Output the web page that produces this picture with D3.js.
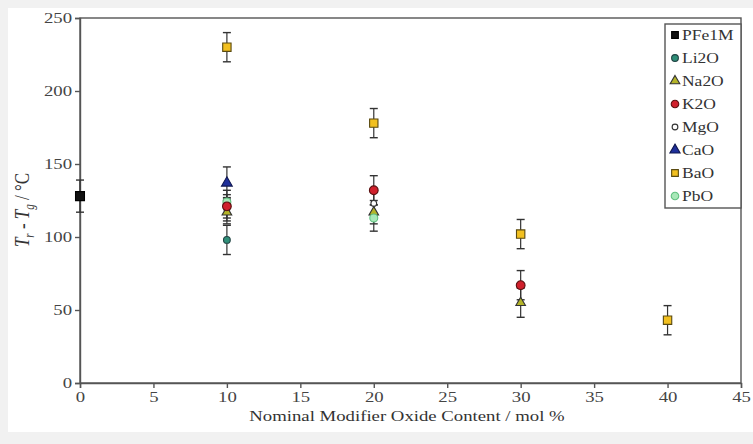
<!DOCTYPE html>
<html>
<head>
<meta charset="utf-8">
<script src="https://cdnjs.cloudflare.com/ajax/libs/d3/7.8.5/d3.min.js"></script>
<style>
  body { margin: 0; background: #f1f1f1; }
  svg { display: block; }
  .axis path, .axis line { stroke: #555; stroke-width: 1.4; }
  .axis text { font-family: "Liberation Serif", "DejaVu Serif", serif; font-size: 15px; fill: #444; }
</style>
</head>
<body>
<div id="chart"></div>
<script>
var margin = {top: 18, right: 12, bottom: 61, left: 80};
var width = 753, height = 444;
var stretch = 1.25; // the picture is wider than it is tall, so text runs wide

// series names and values (x = mol %, y = Tr - Tg, e = error)
var seriesNames = ["PFe1M", "Li2O", "Na2O", "K2O", "MgO", "CaO", "BaO", "PbO"];
var pfe1m = [{x: 0, y: 128, e: 11}];
var li2o = [{x: 10, y: 98, e: 10}];
var na2o = [{x: 10, y: 117, e: 8}, {x: 20, y: 117, e: 8}, {x: 30, y: 55, e: 10}];
var k2o = [{x: 10, y: 121, e: 8}, {x: 20, y: 132, e: 10}, {x: 30, y: 67, e: 10}];
var mgo = [{x: 10, y: 119, e: 8}, {x: 20, y: 123, e: 8}];
var cao = [{x: 10, y: 137, e: 11}];
var bao = [{x: 10, y: 230, e: 10}, {x: 20, y: 178, e: 10}, {x: 30, y: 102, e: 10}, {x: 40, y: 43, e: 10}];
var pbo = [{x: 10, y: 124, e: 8}, {x: 20, y: 113, e: 9}];
var xTicks = [0, 5, 10, 15, 20, 25, 30, 35, 40, 45];
var yTicks = [0, 50, 100, 150, 200, 250];

var styles = {
  PFe1M: {shape: d3.symbolSquare, size: 80, fill: "#111", stroke: "#000"},
  Li2O: {shape: d3.symbolCircle, size: 36, fill: "#2f8f78", stroke: "#244"},
  Na2O: {shape: d3.symbolTriangle, size: 40, fill: "#b4b428", stroke: "#333"},
  K2O: {shape: d3.symbolCircle, size: 60, fill: "#d0202c", stroke: "#5a1010"},
  MgO: {shape: d3.symbolCircle, size: 26, fill: "#fff", stroke: "#333"},
  CaO: {shape: d3.symbolTriangle, size: 50, fill: "#1f2f9a", stroke: "#101850"},
  BaO: {shape: d3.symbolSquare, size: 70, fill: "#f2c020", stroke: "#5a4a10"},
  PbO: {shape: d3.symbolCircle, size: 50, fill: "#a8e8b8", stroke: "#60c080"}
};
var seriesData = [pfe1m, li2o, na2o, k2o, mgo, cao, bao, pbo];
var drawOrder = [6, 5, 0, 1, 4, 2, 7, 3];

var pltwidth = width - margin.left - margin.right,
    pltheight = height - margin.top - margin.bottom;

var svg = d3.select("#chart").append("svg")
    .attr("width", width).attr("height", height);

svg.append("rect").attr("x", 8).attr("y", 8)
    .attr("width", width - 8).attr("height", 424).attr("fill", "#fff");

var g = svg.append("g")
    .attr("transform", "translate(" + margin.left + "," + margin.top + ")");

var xScale = d3.scaleLinear().domain([0, 45]).range([0, pltwidth]);
var yScale = d3.scaleLinear().domain([0, 250]).range([pltheight, 0]);

// frame
g.append("rect").attr("width", pltwidth).attr("height", pltheight)
    .attr("fill", "none").attr("stroke", "#555").attr("stroke-width", 1.4);

g.append("g").attr("class", "x axis")
    .attr("transform", "translate(0," + pltheight + ")")
    .call(d3.axisBottom(xScale).tickValues(xTicks).tickSize(5).tickPadding(3).tickFormat(d3.format("d")))
  .selectAll("text")
    .attr("transform", "scale(" + stretch + ",1)");

g.append("g").attr("class", "y axis")
    .call(d3.axisLeft(yScale).tickValues(yTicks).tickSize(5).tickPadding(3).tickFormat(d3.format("d")))
  .selectAll("text")
    .attr("x", 0)
    .attr("transform", "translate(-8,0) scale(" + stretch + ",1)");

// error bars
drawOrder.forEach(function(i) {
  var eb = g.append("g").selectAll(".eb").data(seriesData[i]).enter().append("g");
  eb.append("line")
    .attr("x1", function(d) { return xScale(d.x); }).attr("x2", function(d) { return xScale(d.x); })
    .attr("y1", function(d) { return yScale(d.y + d.e); }).attr("y2", function(d) { return yScale(d.y - d.e); })
    .attr("stroke", "#333").attr("stroke-width", 1.2);
  [1, -1].forEach(function(s) {
    eb.append("line")
      .attr("x1", function(d) { return xScale(d.x) - 4; }).attr("x2", function(d) { return xScale(d.x) + 4; })
      .attr("y1", function(d) { return yScale(d.y + s * d.e); }).attr("y2", function(d) { return yScale(d.y + s * d.e); })
      .attr("stroke", "#333").attr("stroke-width", 1.4);
  });
});

// markers
drawOrder.forEach(function(i) {
  var st = styles[seriesNames[i]];
  g.selectAll(".m" + i).data(seriesData[i]).enter().append("path")
    .attr("d", d3.symbol().type(st.shape).size(st.size))
    .attr("transform", function(d) { return "translate(" + xScale(d.x) + "," + yScale(d.y) + ")"; })
    .attr("fill", st.fill).attr("stroke", st.stroke).attr("stroke-width", 1.1);
});

// legend
var legend = svg.append("g").attr("transform", "translate(665,24)");
legend.append("rect").attr("width", 76).attr("height", 184)
    .attr("fill", "#fff").attr("stroke", "#555").attr("stroke-width", 1.4);
seriesNames.forEach(function(name, i) {
  var st = styles[name];
  var row = legend.append("g").attr("transform", "translate(0," + (11 + i * 23) + ")");
  row.append("path")
    .attr("d", d3.symbol().type(st.shape).size(Math.min(st.size, 45)))
    .attr("transform", "translate(10,0)")
    .attr("fill", st.fill).attr("stroke", st.stroke).attr("stroke-width", 1.1);
  row.append("text").attr("x", 0).attr("y", 5)
    .attr("transform", "translate(17,0) scale(" + stretch + ",1)")
    .style("font-family", "Liberation Serif, DejaVu Serif, serif")
    .style("font-size", "14px").style("fill", "#333")
    .text(name);
});

// axis labels
svg.append("text").attr("x", 0).attr("y", 0)
    .attr("transform", "translate(407,421) scale(" + stretch + ",1)")
    .attr("text-anchor", "middle")
    .style("font-family", "Liberation Serif, DejaVu Serif, serif")
    .style("font-size", "15px").style("fill", "#333")
    .text("Nominal Modifier Oxide Content / mol %");

var ylab = svg.append("text")
    .attr("transform", "translate(29,210) rotate(-90) scale(1,1.25)")
    .attr("text-anchor", "middle")
    .style("font-family", "Liberation Serif, DejaVu Serif, serif")
    .style("font-size", "17px").style("fill", "#333");
ylab.append("tspan").style("font-style", "italic").text("T");
ylab.append("tspan").attr("dy", 4).style("font-size", "11px").style("font-style", "italic").text("r");
ylab.append("tspan").attr("dy", -4).text(" - ");
ylab.append("tspan").style("font-style", "italic").text("T");
ylab.append("tspan").attr("dy", 4).style("font-size", "11px").style("font-style", "italic").text("g");
ylab.append("tspan").attr("dy", -4).text(" / \u00B0C");
</script>
</body>
</html>
